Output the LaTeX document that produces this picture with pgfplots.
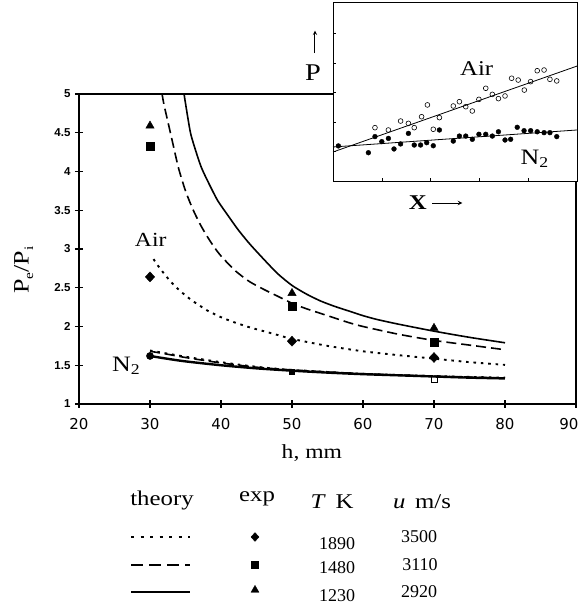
\documentclass[border=0pt]{standalone}
\usepackage{fontspec}
\setmainfont[FakeStretch=1.18]{Liberation Serif}
\newfontfamily\numfont{Liberation Serif}
\newfontfamily\xtickfont{DejaVu Sans}
\newfontfamily\ytickfont{Liberation Sans}
\usepackage{pgfplots}
\pgfplotsset{compat=1.18}

\tikzset{
  dotcurve/.style={line width=1.9pt, dash pattern=on 2.6pt off 4.8pt},
  dashcurve/.style={line width=1.6pt, dash pattern=on 10pt off 5pt},
  solidcurve/.style={line width=1.6pt},
}

\begin{document}
\begin{tikzpicture}
\useasboundingbox (0,0) rectangle (580pt,608pt);

% ---------------- main axis ----------------
\begin{axis}[
  at={(79pt,204pt)}, anchor=south west, scale only axis,
  width=497pt, height=310pt,
  xmin=20, xmax=90, ymin=1, ymax=5,
  xtick={20,30,...,90}, ytick={1,1.5,...,5},
  xticklabels={20,30,40,50,60,70,80,{\makebox[0pt]{\hspace{-14pt}90}}},
  xtick pos=left, ytick pos=left, tick align=center,
  major tick length=8pt,
  axis line style={line width=1.7pt},
  every tick/.style={line width=1.1pt, black},
  /pgf/number format/assume math mode=true,
  xticklabel style={font=\xtickfont\fontsize{15}{15}\selectfont, yshift=-7pt},
  yticklabel style={font=\ytickfont\bfseries\fontsize{11.5}{11.5}\selectfont, xshift=-1pt},
  clip=false,
]
% theory curves, Air
\addplot[dotcurve, smooth, tension=0.4] coordinates {
 (30.5,2.87) (31,2.80) (32,2.68) (33,2.57) (34,2.48) (35,2.40) (36,2.33)
 (37,2.27) (38,2.21) (40,2.12) (42,2.05) (44,1.99) (46,1.94) (48,1.89)
 (50,1.84) (55,1.75) (60,1.68) (65,1.63) (70,1.585) (75,1.54) (80,1.505)};
\addplot[dashcurve, smooth, tension=0.4] coordinates {
 (31.7,5.0) (32,4.85) (33,4.45) (34,4.05) (35,3.75) (36,3.52) (37,3.33)
 (38,3.17) (39,3.03) (40,2.91) (42,2.72) (44,2.58) (46,2.48) (48,2.39)
 (50,2.30) (52,2.23) (55,2.14) (58,2.05) (60,2.00) (65,1.90) (70,1.82)
 (75,1.76) (80,1.70)};
\addplot[solidcurve, smooth, tension=0.4] coordinates {
 (34.8,5.0) (35,4.88) (35.7,4.50) (36.5,4.25) (37.2,4.06) (38,3.90)
 (39.5,3.63) (41,3.43) (42.4,3.25) (44,3.07) (46,2.87) (48,2.68)
 (50,2.53) (52,2.42) (54,2.33) (56,2.26) (58,2.20) (60,2.14)
 (62,2.09) (65,2.03) (70,1.94) (75,1.86) (80,1.79)};
% theory curves, N2
\addplot[dotcurve, smooth] coordinates {
 (30,1.69) (35,1.61) (40,1.54) (45,1.48) (50,1.44) (60,1.39) (70,1.36) (80,1.34)};
\addplot[dashcurve, smooth] coordinates {
 (30,1.68) (32,1.65) (35,1.60) (40,1.53) (45,1.475) (50,1.44) (60,1.39) (70,1.36) (80,1.335)};
\addplot[line width=2.4pt, smooth] coordinates {
 (30,1.62) (32,1.59) (35,1.55) (40,1.50) (45,1.46) (50,1.43) (55,1.405)
 (60,1.385) (65,1.37) (70,1.355) (75,1.34) (80,1.33)};
% experiments
\addplot[only marks, mark=diamond*, mark size=5pt, mark options={xscale=1.25}, black] coordinates {(30,2.64) (50,1.81) (70,1.60)};
\addplot[only marks, mark=square*, mark size=3.8pt, black] coordinates {(30,4.33) (50,2.26) (70,1.80)};
\addplot[only marks, mark=triangle*, mark size=4.8pt, black] coordinates {(30,4.59) (50,2.43) (70,1.98)};
\addplot[only marks, mark=*, mark size=3.6pt, black] coordinates {(30,1.62)};
\addplot[only marks, mark=square*, mark size=2.5pt, black] coordinates {(50,1.42)};
\addplot[only marks, mark=square, mark size=3pt, black, fill=white, line width=0.8pt] coordinates {(70,1.32)};
% labels
\node[font=\fontsize{20}{20}\selectfont] at (axis cs:30.1,3.12) {Air};
\node[font=\fontsize{22}{22}\selectfont] at (axis cs:26.6,1.49) {N\raisebox{-0.3ex}{\fontsize{15}{15}\selectfont 2}};
\node[font=\fontsize{20}{20}\selectfont] at (axis cs:52.8,0.37) {h, mm};
\node[font=\fontsize{22}{22}\selectfont, rotate=90] at (axis cs:12.2,2.73)
  {P\raisebox{-0.45ex}{\fontsize{13}{13}\selectfont e}/P\raisebox{-0.45ex}{\fontsize{13}{13}\selectfont i}};
\end{axis}

% ---------------- inset ----------------
\begin{axis}[
  at={(333pt,427pt)}, anchor=south west, scale only axis,
  width=244pt, height=179pt,
  xmin=0, xmax=100, ymin=0, ymax=100,
  xtick={20,40,60,80}, ytick={16.5,33,49.5,66,82.5},
  xticklabels={}, yticklabels={},
  xtick pos=left, ytick pos=left, tick align=inside,
  major tick length=3pt,
  axis background/.style={fill=white},
  axis line style={line width=0.9pt},
  every tick/.style={line width=0.6pt, black},
  clip=false,
]
\addplot[line width=0.8pt] coordinates {(0,16.2) (100,64.2)};
\addplot[line width=0.8pt] coordinates {(0,19.0) (100,28.5)};
\addplot[only marks, mark=o, mark size=2.4pt, line width=0.6pt] coordinates {
 (17.2,29.8) (22.7,28.5) (27.7,33.5) (30.9,32.2) (33.3,29.8) (36.3,35.9)
 (38.7,42.5) (41.1,28.9) (43.6,35.4) (49.3,41.9) (51.8,44.3) (54.4,41.5)
 (57.1,39.1) (59.8,45.6) (62.6,51.8) (65.3,48.4) (67.8,46.0) (70.5,47.5)
 (73.2,57.4) (75.9,56.4) (78.4,50.8) (81.0,55.5) (83.7,61.6) (86.5,62.0)
 (88.9,56.8) (91.7,55.9)};
\addplot[only marks, mark=*, mark size=2.4pt] coordinates {
 (2.2,19.6) (14.5,15.8) (17.2,24.8) (20.0,22.0) (22.7,23.8) (25.0,17.9)
 (27.7,20.7) (30.9,26.6) (33.3,20.1) (35.9,20.1) (38.4,21.4) (41.1,19.7)
 (43.6,28.5) (49.3,22.3) (51.8,25.1) (54.4,25.1) (57.1,23.3) (59.8,26.1)
 (62.6,26.1) (65.3,25.1) (67.8,27.5) (70.5,22.9) (72.8,23.3) (75.5,30.0)
 (78.3,28.1) (81.0,28.1) (83.7,27.5) (86.5,27.0) (88.9,27.0) (91.7,24.8)};
\node[font=\fontsize{21}{21}\selectfont] at (axis cs:58.9,63) {Air};
\node[font=\fontsize{22}{22}\selectfont] at (axis cs:82.5,12.5) {N\raisebox{-0.3ex}{\fontsize{15}{15}\selectfont 2}};
\node[font=\fontsize{24}{24}\selectfont] at (axis cs:-8.2,60.5) {P};
\draw[-stealth, line width=0.9pt] (axis cs:-7.4,71.5) -- (axis cs:-7.4,84);
\node[font=\bfseries\fontsize{21}{21}\selectfont] at (axis cs:34.8,-12.3) {X};
\draw[-stealth, line width=1pt] (axis cs:40.6,-12.3) -- (axis cs:53,-12.3);
\end{axis}

% ---------------- key table (pixel coordinates) ----------------
\begin{axis}[
  at={(0pt,0pt)}, anchor=south west, scale only axis,
  width=580pt, height=608pt,
  xmin=0, xmax=580, ymin=0, ymax=608,
  hide axis, clip=false,
]
\addplot[line width=2.2pt, dash pattern=on 3pt off 6.5pt] coordinates {(131,71) (190,71)};
\addplot[line width=2.2pt, dash pattern=on 12pt off 6pt] coordinates {(131,43) (190,43)};
\addplot[line width=2.2pt] coordinates {(131,16) (190,16)};
\addplot[only marks, mark=diamond*, mark size=4.4pt, mark options={xscale=1.2}] coordinates {(255,71)};
\addplot[only marks, mark=square*, mark size=3.5pt] coordinates {(255,43)};
\addplot[only marks, mark=triangle*, mark size=4.6pt] coordinates {(255,18)};
\begin{scope}[every node/.style={font=\fontsize{21}{21}\selectfont}]
\node at (axis cs:162,108) {theory};
\node at (axis cs:257,109) {exp};
\node at (axis cs:332,106) {\textit{T}\, K};
\node at (axis cs:422,106) {\textit{u}\, m/s};
\end{scope}
\begin{scope}[every node/.style={font=\numfont\fontsize{18}{18}\selectfont}]
\node at (axis cs:337,64) {1890};
\node at (axis cs:419,71) {3500};
\node at (axis cs:337,40) {1480};
\node at (axis cs:420,43) {3110};
\node at (axis cs:337,12) {1230};
\node at (axis cs:419,16) {2920};
\end{scope}
\end{axis}
\end{tikzpicture}
\end{document}
